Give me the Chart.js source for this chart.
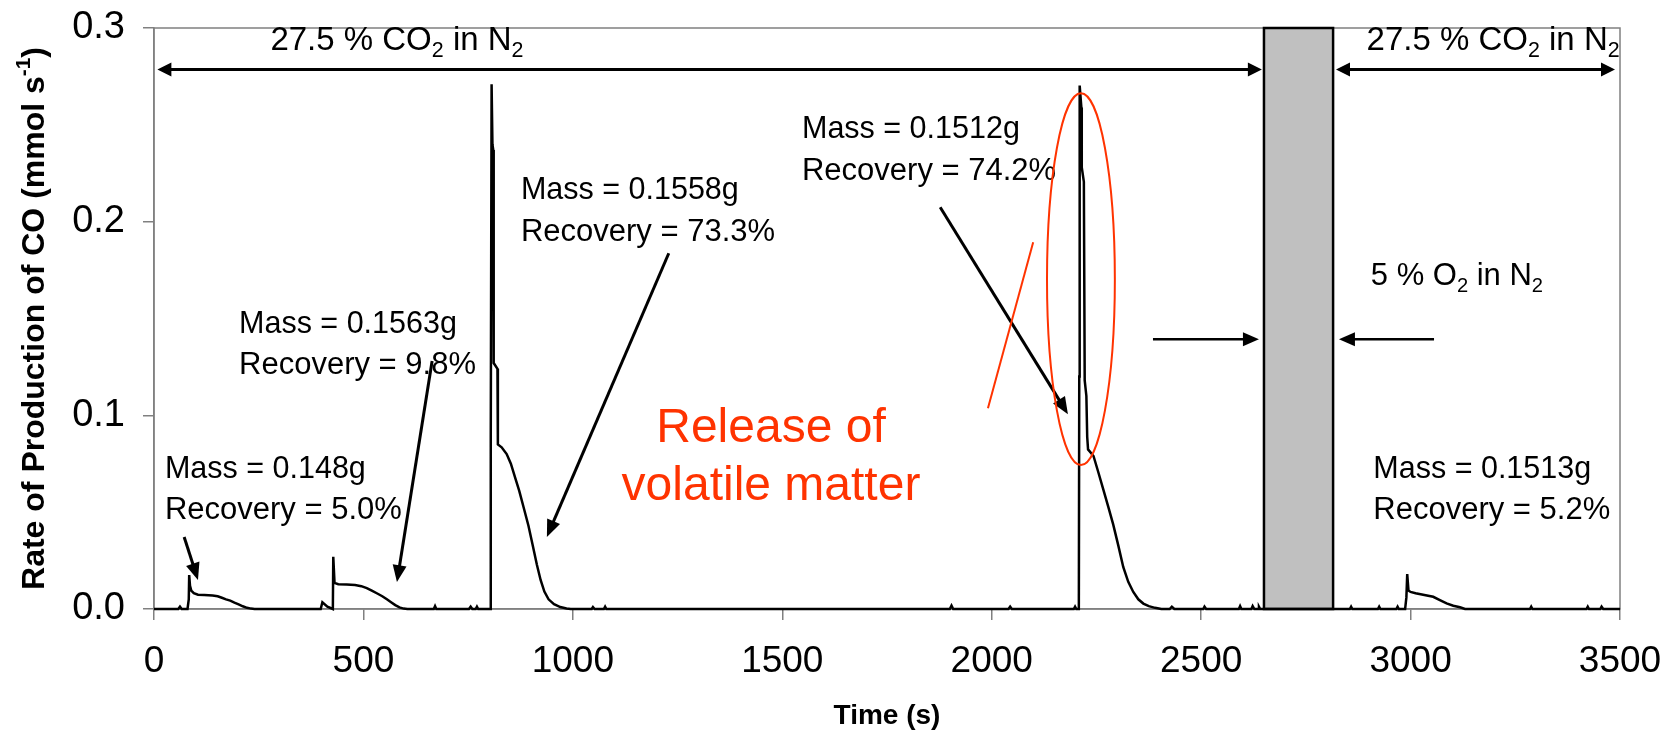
<!DOCTYPE html>
<html>
<head>
<meta charset="utf-8">
<script src="https://cdn.jsdelivr.net/npm/chart.js@4.4.1/dist/chart.umd.min.js"></script>
<style>
  html, body { margin: 0; padding: 0; background: #fff; }
  #wrap { width: 1666px; height: 738px; }
</style>
</head>
<body>
<div id="wrap"><canvas id="coChart" width="1666" height="738"></canvas></div>
<script>
// CO production rate (time in s, rate in mmol/s)
const timeS = [
    0, 58, 62, 66,
    80, 83, 84, 86, 89, 95, 105, 120, 140, 152, 162, 172, 182, 192, 202, 212, 222, 232, 240,
    398, 402, 414, 427, 428, 431, 440, 460, 480, 495, 508, 520, 533, 545, 556, 566, 576, 586, 596, 605,
    668, 671, 674, 752, 756, 760, 768, 771, 774,
    803, 804, 806, 808, 810, 811, 820, 821, 830, 842, 852, 862, 872, 883, 894, 904, 914, 923, 932, 942, 955, 970, 985, 995,
    1045, 1048, 1052, 1074, 1077, 1080,
    1900, 1904, 1908, 2040, 2044, 2048, 2196, 2199, 2202,
    2208, 2209, 2210, 2214, 2215, 2220, 2222, 2226, 2228, 2230, 2243, 2254, 2266, 2278, 2290, 2302, 2314, 2326, 2338, 2350, 2362, 2375, 2390, 2405,
    2425, 2430, 2436, 2505, 2508, 2512, 2590, 2593, 2596, 2620, 2623, 2627, 2636, 2638, 2641,
    2855, 2858, 2861, 2922, 2925, 2928, 2966, 2969, 2972,
    2987, 2990, 2992, 2995, 3000, 3012, 3030, 3054, 3070, 3086, 3102, 3118, 3130,
    3285, 3288, 3291, 3420, 3423, 3426, 3453, 3456, 3460, 3500
];
const rateCO = [
    0, 0, 0.0012, 0,
    0, 0.005, 0.0175, 0.012, 0.0095, 0.0082, 0.0074, 0.0072, 0.0070, 0.0066, 0.0058, 0.0050, 0.0043, 0.0033, 0.0024, 0.0014, 0.0006, 0.0002, 0,
    0, 0.0035, 0.0012, 0, 0.027, 0.0135, 0.0128, 0.0126, 0.0124, 0.0118, 0.0108, 0.0095, 0.0080, 0.0066, 0.0050, 0.0035, 0.0020, 0.0008, 0.0002, 0,
    0, 0.0015, 0, 0, 0.0012, 0, 0, 0.0012, 0,
    0, 0.09, 0.271, 0.24, 0.237, 0.127, 0.124, 0.085, 0.0835, 0.080, 0.075, 0.068, 0.061, 0.052, 0.043, 0.033, 0.023, 0.015, 0.009, 0.005, 0.0025, 0.001, 0.0003, 0,
    0, 0.001, 0, 0, 0.0012, 0,
    0, 0.0018, 0, 0, 0.0012, 0, 0, 0.0012, 0,
    0, 0.12, 0.2703, 0.259, 0.228, 0.2206, 0.118, 0.110, 0.0888, 0.0824, 0.079, 0.071, 0.062, 0.053, 0.0437, 0.033, 0.0217, 0.014, 0.0088, 0.005, 0.0028, 0.0015, 0.0006, 0,
    0, 0.0012, 0, 0, 0.0012, 0, 0, 0.0015, 0, 0, 0.0015, 0, 0, 0.0012, 0,
    0, 0.0012, 0, 0, 0.0012, 0, 0, 0.0012, 0,
    0, 0.006, 0.018, 0.0095, 0.0088, 0.0081, 0.0074, 0.0063, 0.0046, 0.0029, 0.0017, 0.0009, 0,
    0, 0.0012, 0, 0, 0.0012, 0, 0, 0.0012, 0, 0
];
const xTicks = [0, 500, 1000, 1500, 2000, 2500, 3000, 3500];
const yTicks = [0, 0.1, 0.2, 0.3];
// 5 % O2 purge window (s)
const o2Window = [2650, 2815];

const FONT = '"Liberation Sans", Arial, sans-serif';
const RED = '#FF3300';

// text with sub/superscript pieces: parts = [[text, 'sub'|'sup'|'']]
function richText(ctx, parts, x, y, size, bold, align) {
    const w = bold ? 'bold ' : '';
    let total = 0;
    const widths = parts.map(([t, m]) => {
        ctx.font = w + (m ? size * 0.65 : size) + 'px ' + FONT;
        const tw = ctx.measureText(t).width;
        total += tw;
        return tw;
    });
    let cx = align === 'center' ? x - total / 2 : x;
    const base = y + size * 0.36;
    ctx.textBaseline = 'alphabetic';
    ctx.textAlign = 'left';
    parts.forEach(([t, m], i) => {
        ctx.font = w + (m ? size * 0.65 : size) + 'px ' + FONT;
        let by = base;
        if (m === 'sub') by += size * 0.2;
        if (m === 'sup') by -= size * 0.42;
        ctx.fillText(t, cx, by);
        cx += widths[i];
    });
}

function arrowHead(ctx, x1, y1, x2, y2, len, half) {
    const a = Math.atan2(y2 - y1, x2 - x1);
    ctx.beginPath();
    ctx.moveTo(x2, y2);
    ctx.lineTo(x2 - len * Math.cos(a) + half * Math.sin(a), y2 - len * Math.sin(a) - half * Math.cos(a));
    ctx.lineTo(x2 - len * Math.cos(a) - half * Math.sin(a), y2 - len * Math.sin(a) + half * Math.cos(a));
    ctx.closePath();
    ctx.fill();
}

function arrow(ctx, x1, y1, x2, y2, lw, len, half, both) {
    const a = Math.atan2(y2 - y1, x2 - x1);
    const sx = both ? x1 + len * 0.8 * Math.cos(a) : x1;
    const sy = both ? y1 + len * 0.8 * Math.sin(a) : y1;
    ctx.lineWidth = lw;
    ctx.beginPath();
    ctx.moveTo(sx, sy);
    ctx.lineTo(x2 - len * 0.8 * Math.cos(a), y2 - len * 0.8 * Math.sin(a));
    ctx.stroke();
    arrowHead(ctx, x1, y1, x2, y2, len, half);
    if (both) arrowHead(ctx, x2, y2, x1, y1, len, half);
}

const backdrop = {
    id: 'backdrop',
    beforeDatasetsDraw(chart) {
        const { ctx, chartArea: ca, scales: { x, y } } = chart;
        ctx.save();
        // plot frame (top / right edges)
        ctx.strokeStyle = '#808080';
        ctx.lineWidth = 1.5;
        ctx.strokeRect(ca.left, ca.top, ca.right - ca.left, ca.bottom - ca.top);
        // grey box for the O2 period
        const bx1 = x.getPixelForValue(o2Window[0]);
        const bx2 = x.getPixelForValue(o2Window[1]);
        ctx.fillStyle = '#C0C0C0';
        ctx.fillRect(bx1, ca.top, bx2 - bx1, ca.bottom - ca.top);
        ctx.strokeStyle = '#000';
        ctx.lineWidth = 2.5;
        ctx.strokeRect(bx1, ca.top, bx2 - bx1, ca.bottom - ca.top);
        ctx.restore();
    },
    afterDatasetsDraw(chart) {
        const { ctx, chartArea: ca, scales: { x, y } } = chart;
        const px = v => x.getPixelForValue(v);
        const py = v => y.getPixelForValue(v);
        ctx.save();
        ctx.fillStyle = '#000';
        ctx.strokeStyle = '#000';

        // gas atmosphere arrows + labels
        arrow(ctx, px(8), py(0.2786), px(2645), py(0.2786), 3, 14, 7, true);
        arrow(ctx, px(2822), py(0.2786), px(3488), py(0.2786), 3, 14, 7, true);
        const co2 = [['27.5 % CO', ''], ['2', 'sub'], [' in N', ''], ['2', 'sub']];
        richText(ctx, co2, px(580), py(0.2946), 33, false, 'center');
        richText(ctx, co2, px(3197), py(0.2946), 33, false, 'center');
        richText(ctx, [['5 % O', ''], ['2', 'sub'], [' in N', ''], ['2', 'sub']], px(2905), py(0.1729), 31, false, 'left');
        arrow(ctx, px(2385), py(0.1393), px(2638), py(0.1393), 2.5, 16, 7, false);
        arrow(ctx, px(3056), py(0.1393), px(2829), py(0.1393), 2.5, 16, 7, false);

        // sample annotations
        const notes = [
            ['Mass = 0.148g', 'Recovery = 5.0%', 26, 0.0733],
            ['Mass = 0.1563g', 'Recovery = 9.8%', 203, 0.1481],
            ['Mass = 0.1558g', 'Recovery = 73.3%', 876, 0.2172],
            ['Mass = 0.1512g', 'Recovery = 74.2%', 1547, 0.2487],
            ['Mass = 0.1513g', 'Recovery = 5.2%', 2911, 0.0733]
        ];
        notes.forEach(([l1, l2, tx, ty]) => {
            richText(ctx, [[l1, '']], px(tx), py(ty), 30.5, false, 'left');
            richText(ctx, [[l2, '']], px(tx), py(ty) + 41, 31, false, 'left');
        });
        arrow(ctx, px(72), py(0.0372), px(105), py(0.0150), 3, 17, 7, false);
        arrow(ctx, px(664), py(0.128), px(580), py(0.0139), 3, 17, 7, false);
        arrow(ctx, px(1229), py(0.1837), px(938), py(0.0372), 3, 17, 7, false);
        arrow(ctx, px(1877), py(0.2074), px(2182), py(0.1006), 3, 17, 7, false);

        // red highlight
        ctx.strokeStyle = RED;
        ctx.fillStyle = RED;
        ctx.lineWidth = 2;
        ctx.beginPath();
        ctx.moveTo(px(2099), py(0.1894));
        ctx.lineTo(px(1991), py(0.1037));
        ctx.stroke();
        const ex1 = px(2132), ex2 = px(2294), ey1 = py(0.2663), ey2 = py(0.0743);
        ctx.beginPath();
        ctx.ellipse((ex1 + ex2) / 2, (ey1 + ey2) / 2, (ex2 - ex1) / 2, (ey2 - ey1) / 2, 0, 0, Math.PI * 2);
        ctx.stroke();
        richText(ctx, [['Release of', '']], px(1473), py(0.0949), 48, false, 'center');
        richText(ctx, [['volatile matter', '']], px(1473), py(0.065), 48, false, 'center');

        // y axis title with superscript
        ctx.fillStyle = '#000';
        ctx.translate(32, (ca.top + ca.bottom) / 2);
        ctx.rotate(-Math.PI / 2);
        richText(ctx, [['Rate of Production of CO (mmol s', ''], ['-1', 'sup'], [')', '']], 0, 0, 32, true, 'center');
        ctx.restore();
    }
};

function initCOChart() {
    const ctx = document.getElementById('coChart');
    new Chart(ctx.getContext('2d'), {
        type: 'line',
        data: {
            datasets: [{
                label: 'CO',
                data: timeS.map((t, i) => ({ x: t, y: rateCO[i] })),
                borderColor: '#000',
                borderWidth: 2.5,
                pointRadius: 0,
                tension: 0,
                fill: false,
                clip: 6
            }]
        },
        options: {
            responsive: false,
            animation: false,
            layout: { padding: { top: 28, right: 46, left: 0, bottom: 0 } },
            plugins: {
                legend: { display: false },
                tooltip: { enabled: false }
            },
            scales: {
                x: {
                    type: 'linear',
                    min: 0,
                    max: 3500,
                    afterBuildTicks: s => { s.ticks = xTicks.map(v => ({ value: v })); },
                    afterFit: s => {
                        s.height = 129;
                        s.paddingLeft = 0;
                        s.paddingRight = 0;
                    },
                    ticks: {
                        color: '#000',
                        padding: 20,
                        maxRotation: 0,
                        font: { family: FONT, size: 37 },
                        callback: v => String(v)
                    },
                    grid: { drawOnChartArea: false, color: '#808080', tickLength: 11, lineWidth: 1.5 },
                    border: { color: '#808080', width: 1.5 },
                    title: {
                        display: true,
                        text: 'Time (s)',
                        color: '#000',
                        font: { family: FONT, size: 28, weight: 'bold' },
                        padding: { top: 0, bottom: 5 }
                    }
                },
                y: {
                    min: 0,
                    max: 0.3,
                    afterBuildTicks: s => { s.ticks = yTicks.map(v => ({ value: v })); },
                    afterFit: s => {
                        s.width = 154;
                        s.paddingTop = 0;
                        s.paddingBottom = 0;
                    },
                    ticks: {
                        color: '#000',
                        padding: 18,
                        font: { family: FONT, size: 38 },
                        callback: v => v.toFixed(1)
                    },
                    grid: { drawOnChartArea: false, color: '#808080', tickLength: 11, lineWidth: 1.5 },
                    border: { color: '#808080', width: 1.5 }
                }
            }
        },
        plugins: [backdrop]
    });
}

document.addEventListener('DOMContentLoaded', initCOChart);
</script>
</body>
</html>
